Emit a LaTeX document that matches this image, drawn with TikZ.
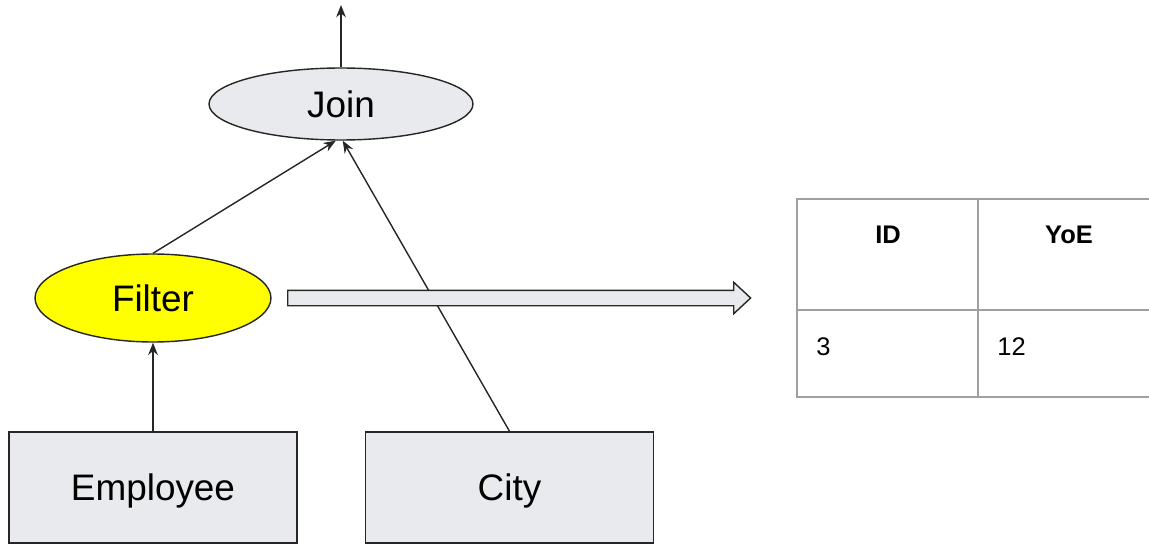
\documentclass[tikz,border=0pt]{standalone}
\usepackage{fontspec}
\setmainfont{Liberation Sans}
\usetikzlibrary{arrows.meta}
\usetikzlibrary{shapes}
\usetikzlibrary{shapes.arrows}
\definecolor{boxgray}{HTML}{E8EAED}
\definecolor{tablegray}{HTML}{A0A0A0}
\definecolor{filteryellow}{HTML}{FFFF00}
\tikzset{
  > = {Stealth[length = 7pt, width = 5.5pt]},
  op/.style = {ellipse,
               draw = black!85,
               line width = 0.8pt,
               fill = boxgray,
               font = \fontsize{21}{25}\selectfont,
               text depth = 0pt,
               inner sep = 0},
  rel/.style = {rectangle,
                draw = black!85,
                line width = 0.8pt,
                fill = boxgray,
                font = \fontsize{21}{25}\selectfont,
                text depth = 0pt,
                minimum width = 5.76cm,
                minimum height = 2.22cm},
  cell/.style = {font = \fontsize{14.5}{17}\selectfont,
                 inner sep = 0},
  grid/.style = {draw = tablegray,
                 line width = 0.9pt},
  link/.style = {->,
                 line width = 0.8pt,
                 draw = black!85}
}

\begin{document}
\begin{tikzpicture}[x = 0.02cm, y = -0.02cm]

\clip (0,0) rectangle (1149,544);

\node[op, minimum width = 5.28cm, minimum height = 1.44cm](join) at (341,104){Join};

\node[op, fill = filteryellow, minimum width = 4.72cm, minimum height = 1.76cm](filter) at (153,298){Filter};

\node[rel](employee) at (153,487.5){Employee};

\node[rel](city) at (509.5,487.5){City};

\coordinate (result) at (341,5);

% operator tree
\draw[link] (join.north) -- (result);
\draw[link] (filter.north) -- ([xshift = -3]join.south);
\draw[link] (city.north) -- ([xshift = 1]join.south);
\draw[link] (employee.north) -- (filter.south);

% filter output
\node[single arrow,
      draw = black!85,
      line width = 0.8pt,
      fill = boxgray,
      inner xsep = 0,
      inner ysep = 0.14cm,
      minimum height = 9.26cm,
      single arrow head extend = 0.16cm,
      single arrow tip angle = 86,
      anchor = tail](output) at (287,298){};

% result table
\draw[grid] (1159,199) -- (797,199) -- (797,397) -- (1159,397);
\draw[grid] (797,310) -- (1159,310);
\draw[grid] (978,199) -- (978,397);

\node[cell, font = \fontsize{14.5}{17}\selectfont\bfseries](col-id) at (888,235){ID};
\node[cell, font = \fontsize{14.5}{17}\selectfont\bfseries](col-yoe) at (1069,235){YoE};
\node[cell, anchor = west](val-id) at (816,347){3};
\node[cell, anchor = west](val-yoe) at (997,347){12};

\end{tikzpicture}
\end{document}
